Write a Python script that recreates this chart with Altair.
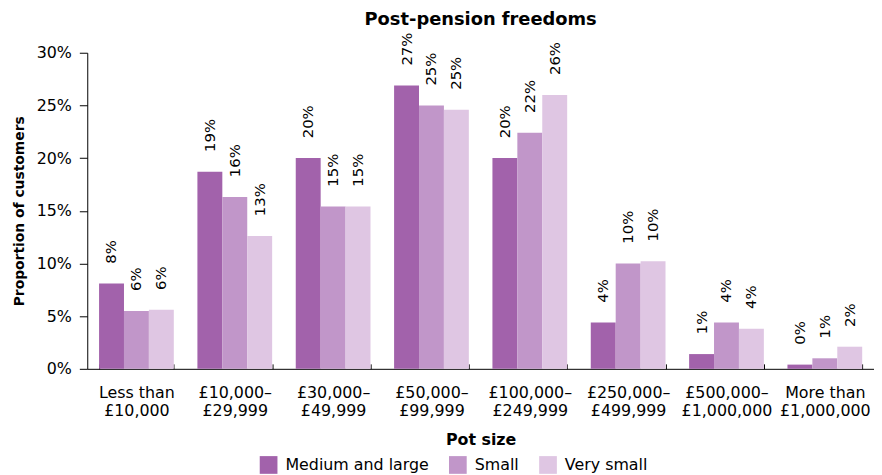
import altair as alt
import pandas as pd

categories = ["Less than|£10,000", "£10,000–|£29,999", "£30,000–|£49,999", "£50,000–|£99,999",
              "£100,000–|£249,999", "£250,000–|£499,999", "£500,000–|£1,000,000", "More than|£1,000,000"]
series = ["Medium and large", "Small", "Very small"]
medium_large = [8.1, 18.7, 20.0, 26.9, 20.0, 4.4, 1.4, 0.4]
small = [5.5, 16.3, 15.4, 25.0, 22.4, 10.0, 4.4, 1.0]
very_small = [5.6, 12.6, 15.4, 24.6, 26.0, 10.2, 3.8, 2.1]
colors = ["#a262ab", "#c196c9", "#dfc6e3"]

rows = []
for s, vals in zip(series, [medium_large, small, very_small]):
    for c, v in zip(categories, vals):
        rows.append({"cat": c, "series": s, "value": v})
df = pd.DataFrame(rows)

FONT = "DejaVu Sans"

x = alt.X("cat:N", sort=categories,
          scale=alt.Scale(paddingInner=0.24, paddingOuter=0.12),
          axis=alt.Axis(title="Pot size", labelAngle=0, labelExpr="split(datum.label, '|')",
                        labelFontSize=16, labelLineHeight=18, labelPadding=21, tickBand="extent",
                        tickSize=alt.ExprRef("-5"), titleFontSize=16, titleFontWeight="bold",
                        titlePadding=13,
                        domainColor="black", tickColor="black", labelColor="black", titleColor="black"))
xo = alt.XOffset("series:N", sort=series)

base = alt.Chart(df).encode(x=x, xOffset=xo)

bars = base.mark_bar().encode(
    y=alt.Y("value:Q", scale=alt.Scale(domain=[0, 30]),
            axis=alt.Axis(title="Proportion of customers", values=[0, 5, 10, 15, 20, 25, 30],
                          labelExpr="datum.value + '%'", grid=False, labelFontSize=16,
                          titleFontSize=14, titleFontWeight="bold", tickSize=8, labelPadding=8,
                          titlePadding=10, domainColor="black", tickColor="black",
                          labelColor="black", titleColor="black")),
    color=alt.Color("series:N", sort=series, scale=alt.Scale(domain=series, range=colors),
                    legend=alt.Legend(title=None, orient="none", direction="horizontal",
                                      legendX=174, legendY=407, symbolType="square",
                                      symbolSize=320, symbolStrokeWidth=0, symbolOpacity=1,
                                      labelFontSize=16, labelColor="black", columnPadding=20,
                                      labelOffset=8)),
)

labels = base.transform_calculate(
    lbl="format(datum.value, '.0f') + '%'"
).mark_text(angle=270, align="left", baseline="middle", dx=20, fontSize=15, font=FONT,
            color="black").encode(
    y="value:Q",
    text="lbl:N",
)

chart = (bars + labels).properties(
    width=794, height=319,
    padding={"left": 4, "top": 0, "right": 0, "bottom": 0},
    title=alt.TitleParams("Post-pension freedoms", fontSize=18, fontWeight="bold", font=FONT,
                          color="black", offset=4),
).configure(font=FONT).configure_view(stroke=None).configure_axis(
    labelFont=FONT, titleFont=FONT
).configure_legend(labelFont=FONT)

chart.save("out.html", embed_options={"renderer": "svg", "actions": False})
